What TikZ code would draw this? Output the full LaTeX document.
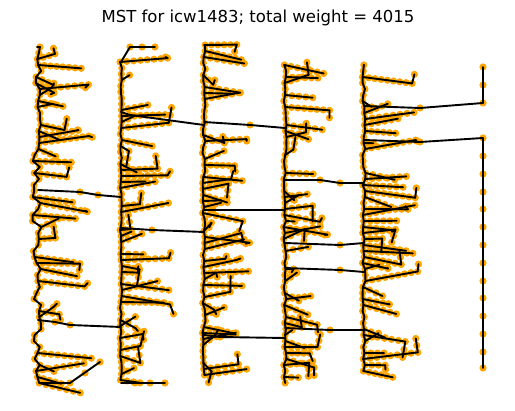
\documentclass[tikz,border=0pt]{standalone}
\usepackage{fontspec}
\setmainfont{DejaVu Sans}
\definecolor{DotOrange}{HTML}{FFA500}
\tikzset{
  edge/.style={black, line width=1.9pt, line cap=round, line join=round},
  vertex/.style={fill=DotOrange}
}
\newif\ifdotpass
\newcommand\vdot[2]{\ifdotpass\fill[vertex] ({#1},{#2}) circle[radius=3.6];\fi}
\newcommand\vedge[4]{\ifdotpass\else\draw[edge] ({#1},{#2}) -- ({#3},{#4});\fi}
% one band of the tree: spine x, top y, bottom y, reach, row step, jitter, seed
\newcommand\mstband[7]{%
  \pgfmathsetseed{#7}%
  \pgfmathtruncatemacro\nrows{(#3-#2)/#5}%
  \xdef\px{#1}\xdef\py{#2}%
  \foreach \k in {0,...,\nrows}{%
    \pgfmathsetmacro\yy{#2+\k*#5}%
    \pgfmathsetmacro\xx{#1+#6*rand}%
    \vedge{\px}{\py}{\xx}{\yy}\vdot{\xx}{\yy}%
    \xdef\px{\xx}\xdef\py{\yy}%
    \pgfmathsetmacro\brn{rnd}%
    \ifdim\brn pt<0.6pt
      \pgfmathsetmacro\blen{#4*(0.15+0.85*rnd)}%
      \pgfmathsetmacro\bdy{10*rand}%
      \pgfmathsetmacro\tx{\xx+\blen}\pgfmathsetmacro\ty{\yy+\bdy}%
      \pgfmathtruncatemacro\nd{max(1,round(\blen/6.5))}%
      \vedge{\xx}{\yy}{\tx}{\ty}%
      \foreach \j in {1,...,\nd}{\vdot{\xx+\blen*\j/\nd}{\yy+\bdy*\j/\nd}}%
      \pgfmathsetmacro\kink{rnd}%
      \ifdim\kink pt<0.45pt
        \pgfmathsetmacro\kdy{16*rand}%
        \pgfmathsetmacro\kty{\ty+\kdy}\pgfmathsetmacro\ktx{\tx+4*rand}%
        \pgfmathtruncatemacro\kd{max(1,round(abs(\kdy)/7))}%
        \vedge{\tx}{\ty}{\ktx}{\kty}%
        \foreach \j in {1,...,\kd}{\vdot{\tx+(\ktx-\tx)*\j/\kd}{\ty+\kdy*\j/\kd}}%
      \fi
    \fi
  }%
}
\newcommand\allbands{%
  \mstband{37}{47}{383}{58}{6}{4.5}{11}%
  \mstband{121}{62}{383}{50}{6}{1}{23}%
  \mstband{204}{45}{378}{46}{6}{1.5}{37}%
  \mstband{285}{65}{383}{46}{6}{1.5}{41}%
  \mstband{364}{65}{375}{55}{6}{1.5}{53}%
}
\begin{document}
\begin{tikzpicture}[x=1pt, y=-1pt]
\useasboundingbox (0,0) rectangle (515,411);
\node[font=\fontsize{16.5}{20}\selectfont] (title) at (258,18) {MST for icw1483; total weight = 4015};

% vertices first, then the tree edges over them
\dotpasstrue\allbands
\foreach \p in {(70,383),(85,373),(100,362),(130,47),(142,47),(155,47),(135,383),(150,383),(165,383),
  (98,195),(80,192),(70,325),(55,322),(130,115),(250,125),(152,230),(213,210),(220,337),
  (340,183),(320,180),(340,245),(340,270),(330,330),(420,108),(420,142)}
  \fill[vertex] \p circle[radius=3.6];
\foreach \yy in {67,85,103,138,156,174,192,209,227,245,263,281,298,316,334,352,368}
  \fill[vertex] (483,\yy) circle[radius=3.6];
\dotpassfalse\allbands

% loose ends of the bands
\draw[edge] (40,383) -- (70,383) -- (100,362);
\draw[edge] (121,62) -- (130,47) -- (155,47);
\draw[edge] (121,383) -- (135,383) -- (165,383);

% links between bands
\draw[edge] (38,190) -- (80,192) -- (98,195) -- (121,197);
\draw[edge] (38,320) -- (55,322) -- (70,325) -- (121,327);
\draw[edge] (121,112) -- (130,115) -- (204,125);
\draw[edge] (204,122) -- (250,125) -- (285,128);
\draw[edge] (121,228) -- (152,230) -- (204,232);
\draw[edge] (204,210) -- (213,210) -- (285,210);
\draw[edge] (204,335) -- (220,337) -- (285,338);
\draw[edge] (285,180) -- (320,180) -- (340,183) -- (364,183);
\draw[edge] (285,243) -- (340,245) -- (364,243);
\draw[edge] (285,268) -- (340,270) -- (364,272);
\draw[edge] (285,328) -- (330,330) -- (364,330);

% right column
\draw[edge] (483,67) -- (483,103);
\draw[edge] (483,138) -- (483,368);
\draw[edge] (364,106) -- (420,108) -- (483,103);
\draw[edge] (364,140) -- (420,142) -- (483,138);
\end{tikzpicture}
\end{document}
